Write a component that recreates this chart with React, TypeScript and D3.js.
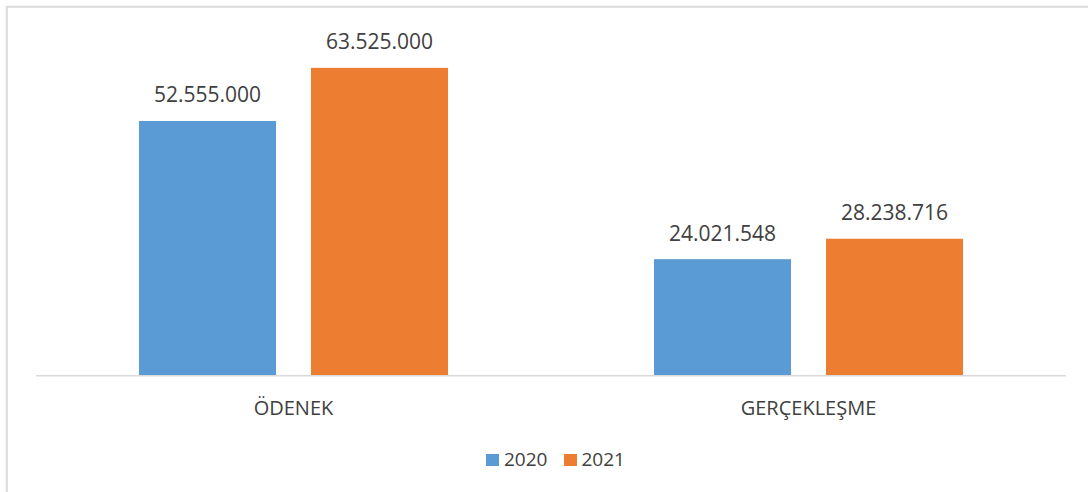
import React from "react";
import * as d3 from "d3";

const categories = ["ÖDENEK", "GERÇEKLEŞME"];
const seriesNames = ["2020", "2021"];
const values2020 = [52555000, 24021548];
const values2021 = [63525000, 28238716];
const seriesColors = ["#5B9BD5", "#ED7D31"];

const W = 1088;
const H = 492;
const FONT = "'Open Sans', sans-serif";
const TEXT = "#404040";

export default function App() {
  const x = d3.scaleBand<string>().domain(categories).range([36, 1066]).paddingInner(0.4).paddingOuter(0.2);
  const xs = d3.scaleBand<string>().domain(seriesNames).range([0, x.bandwidth()]).paddingInner(35 / 172).paddingOuter(0);
  const y = d3.scaleLinear().domain([0, 70000000]).range([375.5, 36.5]);
  const fmt = (v: number) => d3.format(",")(v).replace(/,/g, ".");
  const series = [values2020, values2021];

  const legendItems = [
    { name: seriesNames[0], color: seriesColors[0], sx: 486, tx: 504 },
    { name: seriesNames[1], color: seriesColors[1], sx: 564, tx: 581.5 },
  ];

  return (
    <svg width={W} height={H} style={{ position: "absolute", left: 0, top: 0, background: "#fff" }}>
      <rect x={0} y={0} width={W} height={H} fill="#fff" />
      <rect x={6.75} y={6.75} width={1300} height={700} fill="none" stroke="#d9d9d9" strokeWidth={2} />
      {categories.map((c, ci) =>
        seriesNames.map((s, si) => {
          const v = series[si][ci];
          const bx = (x(c) as number) + (xs(s) as number);
          const bw = xs.bandwidth();
          return (
            <g key={c + s}>
              <rect x={bx} y={y(v)} width={bw} height={y(0) - y(v)} fill={seriesColors[si]} />
              <text
                x={bx + bw / 2}
                y={y(v) - 18.5}
                textAnchor="middle"
                fontFamily={FONT}
                fontSize={21}
                fill={TEXT}
              >
                {fmt(v)}
              </text>
            </g>
          );
        })
      )}
      <line x1={36} x2={1066} y1={375.75} y2={375.75} stroke="#d9d9d9" strokeWidth={1.5} />
      {categories.map((c) => (
        <text
          key={c}
          x={(x(c) as number) + x.bandwidth() / 2}
          y={414.5}
          textAnchor="middle"
          fontFamily={FONT}
          fontSize={20}
          fill={TEXT}
        >
          {c}
        </text>
      ))}
      {legendItems.map((l) => (
        <g key={l.name}>
          <rect x={l.sx} y={454} width={13} height={12} fill={l.color} />
          <text x={l.tx} y={465.7} fontFamily={FONT} fontSize={19} fill={TEXT}>
            {l.name}
          </text>
        </g>
      ))}
    </svg>
  );
}
